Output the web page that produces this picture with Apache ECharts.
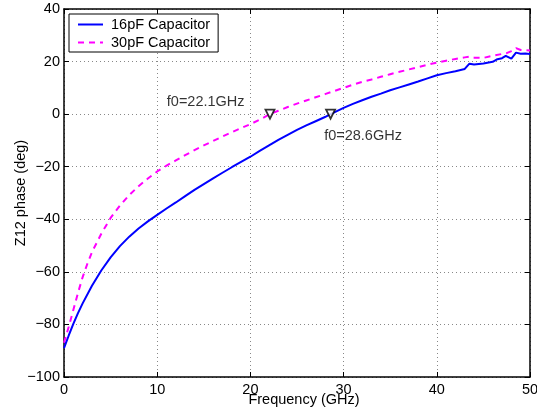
<!DOCTYPE html>
<html>
<head>
<meta charset="utf-8">
<script src="https://cdn.jsdelivr.net/npm/echarts@6/dist/echarts.min.js"></script>
<style>
html,body{margin:0;padding:0;background:#fff;}
#chart{width:537px;height:414px;}
</style>
</head>
<body>
<div id="chart"></div>
<script>
// ---- data ----
const seriesNames = ['16pF Capacitor', '30pF Capacitor'];
const freq16 = [0,0.5,1,1.5,2,3,4,5,6,7,8,9,10,11,12,13,14,15,16,17,18,19,20,21,22,23,24,25,26,27,28,28.6,29,30,31,32,33,34,35,36,37,38,39,40,41,42,43,43.5,44,45,46,46.5,47,47.4,48,48.5,49,49.5,50];
const phase16 = [-89,-84.3,-79.8,-75.7,-72,-65.3,-59.5,-54.5,-50.2,-46.6,-43.5,-40.8,-38.3,-35.9,-33.6,-31.2,-28.8,-26.6,-24.4,-22.3,-20.2,-18.2,-16.2,-14.0,-11.9,-9.8,-7.9,-6.0,-4.3,-2.7,-1.1,0,0.7,2.4,3.9,5.3,6.6,7.8,9.1,10.2,11.3,12.4,13.6,14.8,15.6,16.3,17.2,19.2,18.9,19.3,19.9,20.9,21.3,22.2,21.1,23.4,23.0,23.1,22.9];
const freq30 = [0,0.5,1,1.5,2,2.5,3,4,5,6,7,8,9,10,11,12,13,14,15,16,17,18,19,20,21,22.1,23,24,25,26,27,28,29,30,31,32,33,34,35,36,37,38,39,40,41,42,43,43.5,44,45,46,47,47.5,48,48.5,49,49.5,50];
const phase30 = [-87,-81,-74.5,-68,-62,-57,-52.5,-45.5,-39.5,-34.8,-30.8,-27.4,-24.5,-21.8,-19.6,-17.6,-15.6,-13.7,-11.9,-10.2,-8.5,-6.9,-5.3,-3.8,-2.1,0,1.3,2.7,4.0,5.2,6.4,7.6,8.8,10.0,11.2,12.3,13.2,14.2,15.2,16.1,17.0,17.9,18.8,19.6,20.3,21.0,21.6,21.9,21.5,21.4,22.2,22.9,23.2,24.0,25.1,24.4,24.3,24.2];
const markerFreq = [22.1, 28.6];
const markerPhase = [0, 0];
const markerLabels = ['f0=22.1GHz', 'f0=28.6GHz'];
const xTicks = {min: 0, max: 50, interval: 10};
const yTicks = {min: -100, max: 40, interval: 20};
const xName = 'Frequency (GHz)';
const yName = 'Z12 phase (deg)';

// ---- chart ----
const FONT = 'Liberation Sans, Arial, Helvetica, sans-serif';
const FS = 14.5;
const chart = echarts.init(document.getElementById('chart'), null, {renderer: 'canvas'});
const pair = (xs, ys) => xs.map((x, i) => [x, ys[i]]);
const minus = v => String(v).replace('-', '\u2212');

const axisCommon = {
  axisLine: {show: true, onZero: false, lineStyle: {color: '#000', width: 1.5}},
  axisTick: {show: true, inside: true, length: 5, lineStyle: {color: '#000', width: 1}},
};

const labelPos = [
  {position: [-20, -7], align: 'right', verticalAlign: 'middle'},
  {position: [-1, 27], align: 'left', verticalAlign: 'middle'}
];

chart.setOption({
  animation: false,
  backgroundColor: '#fff',
  textStyle: {fontFamily: FONT},
  grid: {left: 64, right: 7, top: 9, bottom: 37, containLabel: false, outerBoundsMode: 'none'},
  legend: {
    left: 69, top: 14, orient: 'vertical',
    data: seriesNames,
    backgroundColor: '#fff', borderColor: '#000', borderWidth: 1,
    padding: [3, 8, 2, 8], itemGap: 3, itemWidth: 25, itemHeight: 14,
    itemStyle: {opacity: 0},
    textStyle: {fontFamily: FONT, fontSize: FS, color: '#000', padding: [0, 0, 0, 3]}
  },
  xAxis: [
    Object.assign({
      type: 'value', position: 'bottom', min: xTicks.min, max: xTicks.max, interval: xTicks.interval,
      name: xName, nameLocation: 'middle', nameGap: 15, nameMoveOverlap: false,
      nameTextStyle: {fontFamily: FONT, fontSize: FS, color: '#000', padding: [0, 0, 0, 14]},
      axisLabel: {fontFamily: FONT, fontSize: FS, color: '#000', margin: 5},
      splitLine: {show: true, lineStyle: {color: '#888', width: 1, type: [1, 3]}}
    }, axisCommon),
    Object.assign({
      type: 'value', position: 'top', min: xTicks.min, max: xTicks.max, interval: xTicks.interval,
      axisLabel: {show: false}, splitLine: {show: false}
    }, axisCommon)
  ],
  yAxis: [
    Object.assign({
      type: 'value', position: 'left', min: yTicks.min, max: yTicks.max, interval: yTicks.interval,
      name: yName, nameLocation: 'middle', nameGap: 36, nameMoveOverlap: false,
      nameTextStyle: {fontFamily: FONT, fontSize: FS, color: '#000'},
      axisLabel: {fontFamily: FONT, fontSize: FS, color: '#000', margin: 4, formatter: minus},
      splitLine: {show: true, lineStyle: {color: '#888', width: 1, type: [1, 3]}}
    }, axisCommon),
    Object.assign({
      type: 'value', position: 'right', min: yTicks.min, max: yTicks.max, interval: yTicks.interval,
      axisLabel: {show: false}, splitLine: {show: false}
    }, axisCommon)
  ],
  series: [
    {
      name: seriesNames[0], type: 'line', xAxisIndex: 0, yAxisIndex: 0,
      data: pair(freq16, phase16), symbol: 'none', smooth: false,
      lineStyle: {color: '#0000ff', width: 2}, itemStyle: {color: '#0000ff'}, z: 3
    },
    {
      name: seriesNames[1], type: 'line', xAxisIndex: 0, yAxisIndex: 0,
      data: pair(freq30, phase30), symbol: 'none', smooth: false,
      lineStyle: {color: '#ff00ff', width: 2, type: [6, 5]}, itemStyle: {color: '#ff00ff'}, z: 2
    },
    {
      name: 'markers', type: 'scatter', xAxisIndex: 0, yAxisIndex: 0,
      symbol: 'triangle', symbolRotate: 180, symbolSize: 9,
      itemStyle: {color: '#fff', borderColor: '#000', borderWidth: 1.8},
      z: 5,
      data: markerFreq.map((f, i) => ({
        value: [f, markerPhase[i]],
        label: Object.assign({
          show: true, formatter: markerLabels[i],
          fontFamily: FONT, fontSize: FS, color: '#000'
        }, labelPos[i])
      }))
    }
  ]
});
</script>
</body>
</html>
